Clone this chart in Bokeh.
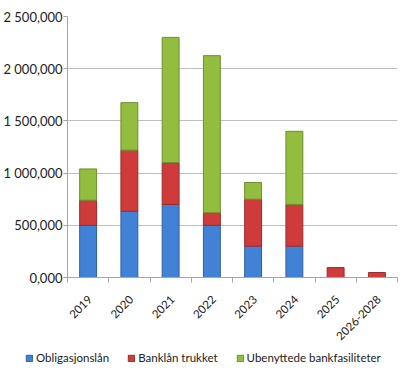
import numpy as np
from bokeh.plotting import figure
from bokeh.models import FixedTicker, ColumnDataSource, Legend, LegendItem, Range1d
from bokeh.embed import file_html
from bokeh.resources import INLINE

categories = ["2019", "2020", "2021", "2022", "2023", "2024", "2025", "2026-2028"]
obligasjonslan = [500000, 635000, 700000, 500000, 300000, 300000, 0, 0]
banklan_trukket = [240000, 585000, 400000, 120000, 450000, 400000, 95000, 48000]
ubenyttede = [300000, 455000, 1200000, 1505000, 160000, 700000, 0, 0]
series_names = ["Obligasjonslån", "Banklån trukket", "Ubenyttede bankfasiliteter"]
y_ticks = [0, 500000, 1000000, 1500000, 2000000, 2500000]
y_tick_labels = ["0,000", "500,000", "1 000,000", "1 500,000", "2 000,000", "2 500,000"]

colors = ["#4282d6", "#cf3b3b", "#92bd3e"]
lines = ["#2f5f9e", "#9b2b2b", "#6d8e2e"]

FONT = "Lato"
n = len(categories)
x = np.arange(n) + 0.5
label_pos = x + 0.05

p = figure(frame_width=330, frame_height=261, output_backend="svg", toolbar_location=None,
           x_range=Range1d(0, n), y_range=Range1d(0, 2500000),
           min_border_left=65, min_border_right=5, min_border_top=16,
           min_border_bottom=62)
p.outline_line_color = None
p.background_fill_color = "white"

series = [np.array(obligasjonslan, float), np.array(banklan_trukket, float),
          np.array(ubenyttede, float)]
bottom = np.zeros(n)
for i in range(3):
    top = bottom + series[i]
    keep = series[i] > 0
    src = ColumnDataSource(dict(x=x[keep], bottom=bottom[keep], top=top[keep]))
    p.vbar(x="x", width=0.41, bottom="bottom", top="top", source=src,
           fill_color=colors[i], line_color=lines[i], line_width=1)
    bottom = top

# y axis
p.yaxis.ticker = FixedTicker(ticks=y_ticks, minor_ticks=[])
p.yaxis.major_label_overrides = {t: l for t, l in zip(y_ticks, y_tick_labels)}
p.yaxis.major_label_text_font = FONT
p.yaxis.major_label_text_font_size = "13px"
p.yaxis.major_label_text_color = "#222222"
p.yaxis.axis_line_color = "#a6a6a6"
p.yaxis.major_tick_line_color = "#a6a6a6"
p.yaxis.major_tick_out = 4
p.yaxis.major_tick_in = 0
p.yaxis.major_label_standoff = 1

# x axis
p.xaxis.ticker = FixedTicker(ticks=list(label_pos), minor_ticks=list(range(n + 1)))
p.xaxis.major_label_overrides = {float(v): c for v, c in zip(label_pos, categories)}
p.xaxis.major_label_orientation = np.pi / 4
p.xaxis.major_label_text_font = FONT
p.xaxis.major_label_text_font_size = "11.5px"
p.xaxis.major_label_text_color = "#222222"
p.xaxis.axis_line_color = "#a6a6a6"
p.xaxis.major_tick_line_color = None
p.xaxis.minor_tick_line_color = "#a6a6a6"
p.xaxis.minor_tick_out = 5
p.xaxis.minor_tick_in = 0
p.xaxis.major_label_standoff = 14

p.xgrid.grid_line_color = None
p.ygrid.ticker = FixedTicker(ticks=y_ticks)
p.ygrid.grid_line_color = "#bfbfbf"
p.ygrid.grid_line_width = 1

# legend in a slim, separate figure below the chart
lg = figure(width=400, height=22, output_backend="svg", toolbar_location=None,
            x_range=Range1d(0, 1), y_range=Range1d(0, 1),
            min_border_left=0, min_border_right=0, min_border_top=0, min_border_bottom=0)
lg.axis.visible = False
lg.grid.grid_line_color = None
lg.outline_line_color = None
items = []
for i in range(3):
    r = lg.rect(x=[-10], y=[-10], width=1, height=1,
                fill_color=colors[i], line_color=lines[i])
    items.append(LegendItem(label=series_names[i], renderers=[r]))
legend = Legend(items=items, orientation="horizontal", location=(25, 4))
legend.label_text_font = FONT
legend.label_text_font_size = "11.5px"
legend.label_text_color = "#222222"
legend.glyph_width = 8
legend.glyph_height = 8
legend.label_standoff = 3
legend.spacing = 18
legend.padding = 0
legend.margin = 0
legend.border_line_color = None
legend.background_fill_alpha = 0
lg.add_layout(legend, "center")

open("out.html", "w").write(file_html([p, lg], INLINE))
